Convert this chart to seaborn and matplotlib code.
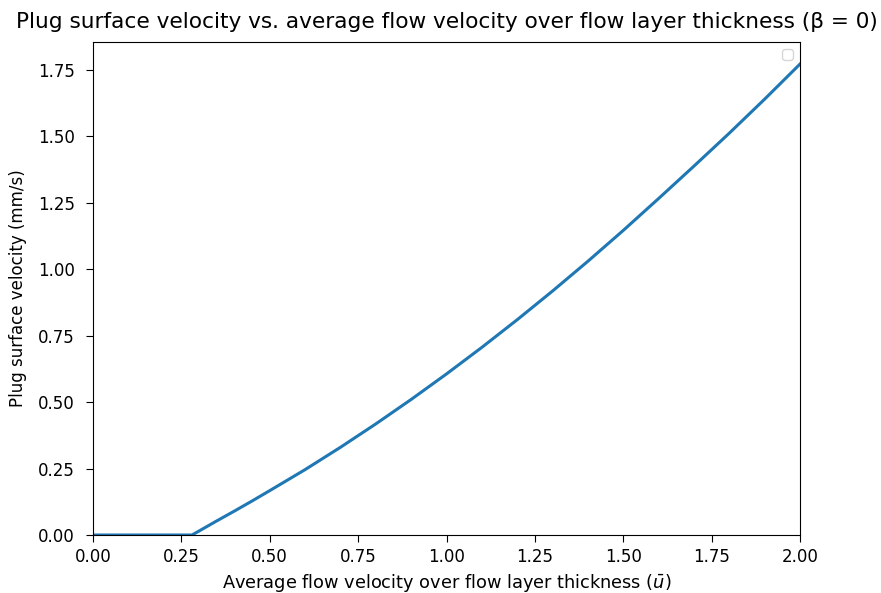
import warnings

import matplotlib
matplotlib.use("Agg")
import matplotlib.pyplot as plt
import matplotlib.ticker as mticker
import seaborn as sns
import pandas as pd

# Average flow velocity over flow layer thickness (u bar)
u_bar = [0.00, 0.10, 0.20, 0.28, 0.30, 0.35, 0.40, 0.45, 0.50, 0.60, 0.70, 0.80,
         0.90, 1.00, 1.10, 1.20, 1.30, 1.40, 1.50, 1.60, 1.70, 1.80, 1.90, 2.00]
# Plug surface velocity (mm/s)
plug_velocity = [0.0, 0.0, 0.0, 0.0, 0.015, 0.053, 0.090, 0.128, 0.167, 0.246,
                 0.330, 0.418, 0.510, 0.606, 0.706, 0.810, 0.918, 1.030, 1.146,
                 1.266, 1.388, 1.512, 1.640, 1.772]

x_ticks = [0, 0.25, 0.5, 0.75, 1.0, 1.25, 1.5, 1.75, 2.0]
y_ticks = [0, 0.25, 0.5, 0.75, 1.0, 1.25, 1.5, 1.75]

df = pd.DataFrame({"u_bar": u_bar, "plug": plug_velocity})

fig = plt.figure(figsize=(8.81, 5.93), dpi=100)
ax = fig.add_axes([93 / 881, 1 - 535 / 593, (800 - 93) / 881, (535 - 42) / 593])

sns.lineplot(data=df, x="u_bar", y="plug", ax=ax, color="#1f77b4", linewidth=2.2)

ax.set_xlim(0, 2)
ax.set_ylim(0, 1.855)
ax.set_xticks(x_ticks)
ax.set_yticks(y_ticks)
ax.xaxis.set_major_formatter(mticker.FormatStrFormatter("%.2f"))
ax.yaxis.set_major_formatter(mticker.FormatStrFormatter("%.2f"))
ax.tick_params(labelsize=12, length=5)
ax.tick_params(axis="x", pad=4.5)
ax.tick_params(axis="y", pad=8)

ax.set_xlabel(r"Average flow velocity over flow layer thickness ($\bar{u}$)", fontsize=12.8)
ax.set_ylabel("Plug surface velocity (mm/s)", fontsize=12, labelpad=8)
ax.set_title("Plug surface velocity vs. average flow velocity over flow layer thickness (β = 0)",
             fontsize=15.6, pad=10)

with warnings.catch_warnings():
    warnings.simplefilter("ignore")
    ax.legend(loc="upper right")

fig.savefig("out.png", dpi=100)
